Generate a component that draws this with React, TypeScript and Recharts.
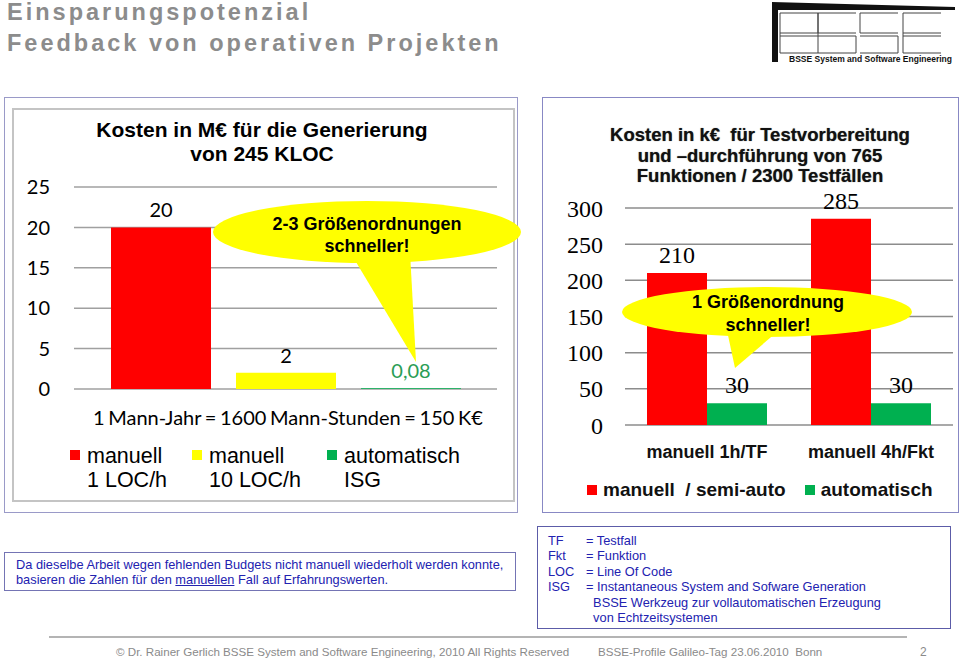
import { Bar, BarChart, CartesianGrid, Cell, LabelList, XAxis, YAxis } from 'recharts';

// left chart: Kosten in M€ für die Generierung von 245 KLOC
const genCategories = ['manuell 1 LOC/h', 'manuell 10 LOC/h', 'automatisch ISG'];
const genCosts = [20, 2, 0.08];
const genLabels = ['20', '2', '0,08'];
const genColors = ['#ff0000', '#ffff00', '#00b050'];
const genLabelColors = ['#000000', '#000000', '#2a9d56'];
const genTicks = [0, 5, 10, 15, 20, 25];

// right chart: Kosten in k€ für Testvorbereitung und -durchführung
const testCategories = ['manuell 1h/TF', 'manuell 4h/Fkt'];
const manualCosts = [210, 285];
const autoCosts = [30, 30];
const testTicks = [0, 50, 100, 150, 200, 250, 300];

const genData = genCategories.map((name, i) => ({ name, cost: genCosts[i], label: genLabels[i] }));
const testData = testCategories.map((name, i) => ({ name, manual: manualCosts[i], auto: autoCosts[i] }));

const ARIAL = '"Liberation Sans", Arial, sans-serif';
const TIMES = '"Liberation Serif", "Times New Roman", serif';
const CALIBRI = 'Lato, "Open Sans", sans-serif';

const abs = (left: number, top: number, extra: any = {}) => ({ position: 'absolute' as const, left, top, ...extra });

function GenLabel(p: any) {
    const { x, y, width, index } = p
    return <text x={x + width / 2} y={y - 10} textAnchor="middle" fontFamily={CALIBRI} fontSize={20}
        fill={genLabelColors[index] ?? '#000'}>{genLabels[index]}</text>
}

function TestLabel(p: any) {
    const { x, y, width, value } = p
    return <text x={x + width / 2} y={y - 10} textAnchor="middle" fontFamily={TIMES} fontSize={24} fill="#000">{value}</text>
}

function Logo() {
    // rough BSSE logo: double-lined block letters
    const letters: Array<[number, string]> = [[780, 'B'], [818, 'S'], [860, 'S'], [903, 'E']]
    const w = 38, top = 13, mid = 33, bot = 53
    return <svg width={960} height={70} style={abs(0, 0)}>
        <polygon points="772,2 955,7 955,10 778,10 778,62 772,62" fill="#111" />
        {letters.map(([x, ch]) => {
            const s = '#444'
            return <g key={x} stroke={s} strokeWidth={1} fill="none">
                <line x1={x} y1={top} x2={x + w} y2={top} />
                <line x1={x} y1={mid} x2={x + w} y2={mid} />
                <line x1={x} y1={mid + 3} x2={x + w} y2={mid + 3} />
                <line x1={x} y1={bot} x2={x + w} y2={bot} />
                {ch !== 'S' && <line x1={x} y1={top} x2={x} y2={bot} />}
                {ch === 'S' && <line x1={x} y1={top} x2={x} y2={mid} />}
                {ch === 'S' && <line x1={x + w} y1={mid + 3} x2={x + w} y2={bot} />}
                {ch === 'B' && <line x1={x + w} y1={top} x2={x + w} y2={bot} />}
            </g>
        })}
        <text x={789} y={62} fontFamily={ARIAL} fontSize={8.5} fontWeight="bold" fill="#111">BSSE System and Software Engineering</text>
    </svg>
}

export default function App() {
    const legendBox = (color: string) => ({ width: 10, height: 10, background: color })
    return <div style={{ position: 'absolute', left: 0, top: 0, width: 960, height: 662, background: '#fff', overflow: 'hidden', fontFamily: ARIAL }}>
        {/* slide title */}
        <div style={abs(7, -3, { color: '#8c8c8c', fontWeight: 'bold', fontSize: 23.5, letterSpacing: 3, lineHeight: '31px', whiteSpace: 'nowrap' })}>
            Einsparungspotenzial<br />Feedback von operativen Projekten
        </div>
        <Logo />

        {/* left panel frames */}
        <div style={abs(4, 97, { width: 512, height: 414, border: '1px solid #9a9ac8' })} />
        <div style={abs(12, 108, { width: 499, height: 390, border: '2px solid #c4c4c4' })} />

        <div style={abs(0, 95)}>
            <BarChart width={520} height={320} data={genData} margin={{ top: 92, right: 23, bottom: 26, left: 0 }} barCategoryGap={12}>
                <CartesianGrid vertical={false} stroke="#a0a0a0" strokeWidth={1.5} />
                <XAxis dataKey="name" hide padding={{ left: 24, right: 24 }} />
                <YAxis width={74} domain={[0, 25]} ticks={genTicks} tickLine={false} axisLine={false} tickSize={0} tickMargin={24}
                    tick={{ fontFamily: CALIBRI, fontSize: 20, fill: '#000' }} />
                <Bar dataKey="cost" barSize={100} isAnimationActive={false}>
                    {genData.map((d, i) => <Cell key={d.name} fill={genColors[i]} />)}
                    <LabelList dataKey="cost" content={GenLabel} />
                </Bar>
            </BarChart>
        </div>

        <div style={abs(0, 118, { width: 524, textAlign: 'center', fontWeight: 'bold', fontSize: 21, lineHeight: '24px', color: '#000' })}>
            Kosten in M€ für die Generierung<br />von 245 KLOC
        </div>

        <div style={abs(93, 405, { fontFamily: CALIBRI, fontSize: 20, lineHeight: '24px', whiteSpace: 'nowrap', wordSpacing: -1.5 })}>
            1 Mann-Jahr = 1600 Mann-Stunden = 150 K€
        </div>

        {/* left legend */}
        {[[70, genColors[0], 'manuell', '1 LOC/h'], [192, genColors[1], 'manuell', '10 LOC/h'], [327, genColors[2], 'automatisch', 'ISG']].map(([x, c, a, b]) =>
            <div key={b as string} style={abs(x as number, 444, { display: 'flex', alignItems: 'flex-start', fontSize: 21.5, lineHeight: '24px' })}>
                <div style={{ ...legendBox(c as string), marginTop: 6, marginRight: 7 }} />
                <div>{a}<br />{b}</div>
            </div>)}

        {/* right panel */}
        <div style={abs(542, 97, { width: 415, height: 414, border: '1px solid #8888c4' })} />
        <div style={abs(541, 170)}>
            <BarChart width={417} height={310} data={testData} margin={{ top: 38, right: 5, bottom: 0, left: 0 }} barGap={0}>
                <CartesianGrid vertical={false} stroke="#8c8c8c" strokeWidth={1.5} />
                <XAxis dataKey="name" height={55} tickLine={false} axisLine={false} tickSize={0} tickMargin={20}
                    tick={{ fontFamily: ARIAL, fontSize: 18, fontWeight: 'bold', fill: '#111' }} />
                <YAxis width={84} domain={[0, 300]} ticks={testTicks} tickLine={false} axisLine={false} tickSize={0} tickMargin={22}
                    tick={{ fontFamily: TIMES, fontSize: 24, fill: '#000' }} />
                <Bar dataKey="manual" fill="#ff0000" barSize={60} isAnimationActive={false}>
                    <LabelList dataKey="manual" content={TestLabel} />
                </Bar>
                <Bar dataKey="auto" fill="#00b050" barSize={60} isAnimationActive={false}>
                    <LabelList dataKey="auto" content={TestLabel} />
                </Bar>
            </BarChart>
        </div>
        <div style={abs(540, 125, { width: 440, textAlign: 'center', fontWeight: 'bold', fontSize: 18.5, lineHeight: '20.5px', color: '#111', textShadow: '0 0 1px #666', whiteSpace: 'nowrap' })}>
            Kosten in k€&nbsp; für Testvorbereitung<br />und –durchführung von 765<br />Funktionen / 2300 Testfällen
        </div>
        <div style={abs(587, 478, { display: 'flex', alignItems: 'center', fontWeight: 'bold', fontSize: 19, lineHeight: '24px', color: '#111', whiteSpace: 'pre' })}>
            <div style={{ ...legendBox('#ff0000'), marginRight: 6 }} />
            <span>manuell  / semi-auto</span>
            <div style={{ ...legendBox('#00b050'), marginLeft: 19, marginRight: 6 }} />
            <span>automatisch</span>
        </div>

        {/* callouts */}
        <svg width={960} height={662} style={abs(0, 0, { pointerEvents: 'none' })}>
            <polygon points="350,252 410,252 416,362" fill="#ffff00" />
            <ellipse cx={367} cy={232} rx={154} ry={31} fill="#ffff00" />
            <text x={367} y={230} textAnchor="middle" fontFamily={ARIAL} fontSize={18} fontWeight="bold">2-3 Größenordnungen</text>
            <text x={367} y={252} textAnchor="middle" fontFamily={ARIAL} fontSize={18} fontWeight="bold">schneller!</text>

            <polygon points="726,326 784,326 735,368" fill="#ffff00" />
            <ellipse cx={767} cy={312} rx={145} ry={25} fill="#ffff00" />
            <text x={768} y={308} textAnchor="middle" fontFamily={ARIAL} fontSize={18} fontWeight="bold">1 Größenordnung</text>
            <text x={768} y={331} textAnchor="middle" fontFamily={ARIAL} fontSize={18} fontWeight="bold">schneller!</text>
        </svg>

        {/* notes */}
        <div style={abs(4, 552, { width: 512, height: 39, border: '1px solid #7474b4', color: '#2222b0', fontSize: 12.8, lineHeight: '14.5px', padding: '0 0 0 11px', boxSizing: 'border-box' })}>
            <div style={{ marginTop: 5, whiteSpace: 'nowrap' }}>Da dieselbe Arbeit wegen fehlenden Budgets nicht manuell wiederholt werden konnte,<br />
                basieren die Zahlen für den <span style={{ textDecoration: 'underline' }}>manuellen</span> Fall auf Erfahrungswerten.</div>
        </div>
        <div style={abs(537, 526, { width: 414, height: 103, border: '1px solid #5c5ca8', boxSizing: 'border-box', color: '#2222b0', fontSize: 12.8, lineHeight: '15.4px' })}>
            {[['TF', '= Testfall'], ['Fkt', '= Funktion'], ['LOC', '= Line Of Code'], ['ISG', '= Instantaneous System and Sofware Generation'],
            ['', '\u00a0\u00a0BSSE Werkzeug zur vollautomatischen Erzeugung'], ['', '\u00a0\u00a0von Echtzeitsystemen']].map(([a, b], i) =>
                <div key={i} style={abs(10, 6 + i * 15.4, { whiteSpace: 'nowrap' })}>
                    <span style={{ display: 'inline-block', width: 38 }}>{a}</span>{b}
                </div>)}
        </div>

        {/* footer */}
        <div style={abs(49, 636, { width: 858, height: 2, background: '#b4b4b4' })} />
        <div style={abs(116, 645, { color: '#8a8a8a', fontSize: 11.6, whiteSpace: 'nowrap' })}>© Dr. Rainer Gerlich BSSE System and Software Engineering, 2010 All Rights Reserved</div>
        <div style={abs(598, 645, { color: '#8a8a8a', fontSize: 11.6, whiteSpace: 'pre' })}>BSSE-Profile Galileo-Tag 23.06.2010  Bonn</div>
        <div style={abs(920, 645, { color: '#8a8a8a', fontSize: 12 })}>2</div>
    </div>
}
